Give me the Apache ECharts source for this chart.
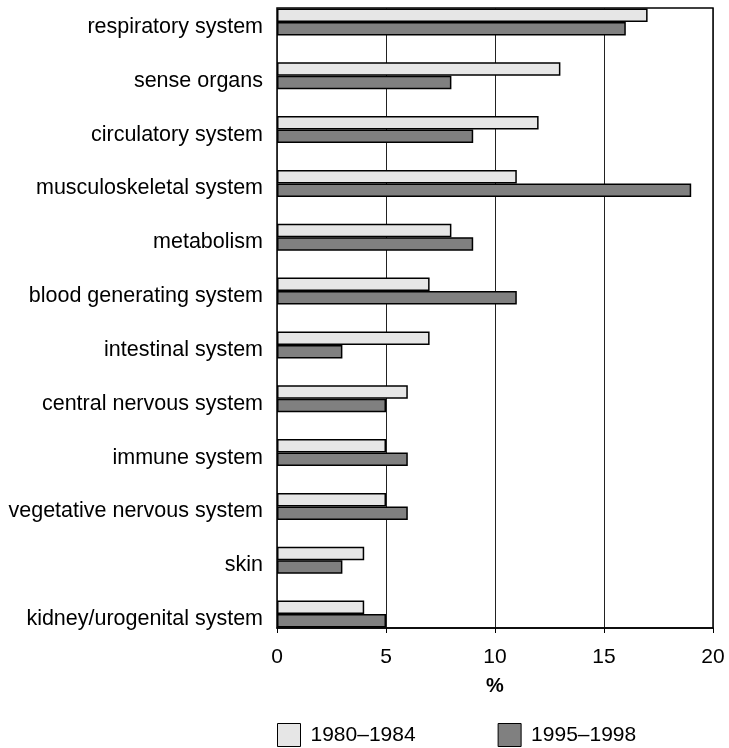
<!DOCTYPE html>
<html>
<head>
<meta charset="utf-8">
<script src="https://cdn.jsdelivr.net/npm/echarts@6/dist/echarts.min.js"></script>
<style>html,body{margin:0;padding:0;background:#fff}#c{width:729px;height:748px}</style>
</head>
<body>
<div id="c"></div>
<script>
var categories = ['respiratory system','sense organs','circulatory system','musculoskeletal system','metabolism','blood generating system','intestinal system','central nervous system','immune system','vegetative nervous system','skin','kidney/urogenital system'];
var series1980 = [17,13,12,11,8,7,7,6,5,5,4,4];
var series1995 = [16,8,9,19,9,11,3,5,6,6,3,5];
var seriesNames = ['1980\u20131984','1995\u20131998'];
var xTicks = [0,5,10,15,20];

var FONT = "'Liberation Sans', Arial, Helvetica, sans-serif";
var chart = echarts.init(document.getElementById('c'));
chart.setOption({
  animation: false,
  textStyle: {fontFamily: FONT, color: '#000'},
  grid: [
    {left: 277, right: 16, top: 8, bottom: 120, show: true, borderColor: '#000', borderWidth: 1.5, backgroundColor: 'transparent', outerBoundsMode: 'none', containLabel: false},
    {left: 277, right: 16, top: -5, height: 646, outerBoundsMode: 'none', containLabel: false}
  ],
  xAxis: [
    {gridIndex: 0, type: 'value', min: xTicks[0], max: xTicks[xTicks.length-1], interval: 5,
     axisLine: {show: true, lineStyle: {color: '#000', width: 1.5}},
     axisTick: {show: true, length: 5, lineStyle: {color: '#000', width: 1}},
     axisLabel: {fontSize: 21, color: '#000', margin: 19, fontFamily: FONT},
     splitLine: {show: true, lineStyle: {color: '#222', width: 1}},
     name: '%', nameLocation: 'middle', nameGap: 48,
     nameTextStyle: {fontSize: 20, fontWeight: 'bold', color: '#000', fontFamily: FONT}},
    {gridIndex: 1, type: 'value', min: 0, max: 20, show: false}
  ],
  yAxis: [
    {gridIndex: 0, type: 'value', show: false, min: 0, max: 1},
    {gridIndex: 1, type: 'category', inverse: true, data: categories,
     axisLine: {show: false}, axisTick: {show: false}, splitLine: {show: false},
     axisLabel: {fontSize: 21.5, color: '#000', margin: 14, verticalAlign: 'top', lineHeight: 10, fontFamily: FONT}}
  ],
  legend: {
    left: 277, top: 723, padding: 0, itemWidth: 23, itemHeight: 23, itemGap: 82,
    icon: 'rect',
    itemStyle: {borderColor: '#000', borderWidth: 1},
    textStyle: {fontSize: 21, color: '#000', fontFamily: FONT, padding: [0,0,0,5]},
    data: seriesNames
  },
  series: [
    {name: seriesNames[0], type: 'bar', xAxisIndex: 1, yAxisIndex: 1, data: series1980,
     barWidth: 13.5, barGap: '0%',
     itemStyle: {color: '#e6e6e6', borderColor: '#000', borderWidth: 1.5}},
    {name: seriesNames[1], type: 'bar', xAxisIndex: 1, yAxisIndex: 1, data: series1995,
     barWidth: 13.5, barGap: '0%',
     itemStyle: {color: '#808080', borderColor: '#000', borderWidth: 1.5}}
  ]
});
</script>
</body>
</html>
